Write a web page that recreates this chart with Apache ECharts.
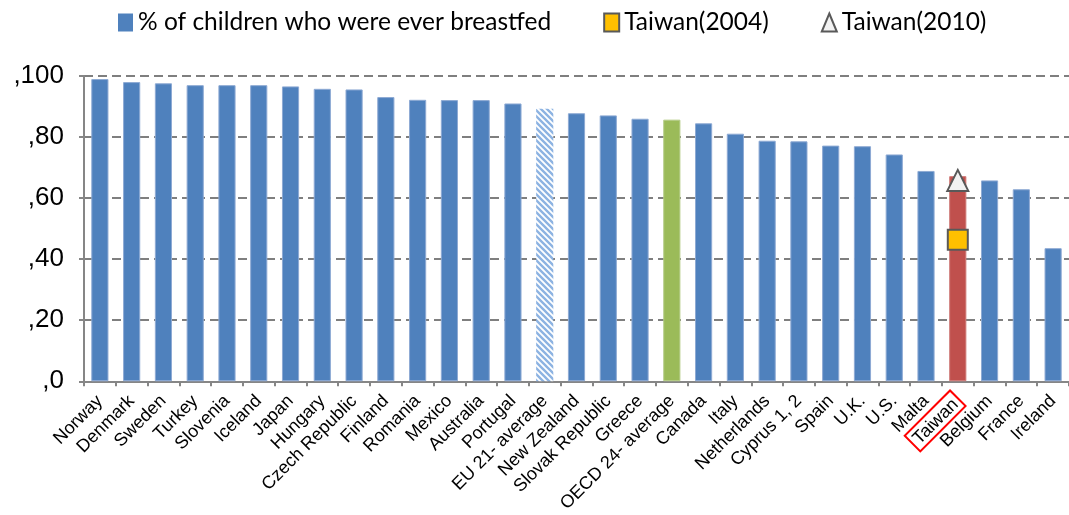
<!DOCTYPE html>
<html>
<head>
<meta charset="utf-8">
<script src="https://cdn.jsdelivr.net/npm/echarts@6/dist/echarts.min.js"></script>
<style>html,body{margin:0;padding:0;background:#fff}#c{width:1069px;height:515px}</style>
</head>
<body>
<div id="c"></div>
<script>
const categories = ["Norway","Denmark","Sweden","Turkey","Slovenia","Iceland","Japan","Hungary","Czech Republic","Finland","Romania","Mexico","Australia","Portugal","EU 21- average","New Zealand","Slovak Republic","Greece","OECD 24- average","Canada","Italy","Netherlands","Cyprus 1, 2","Spain","U.K.","U.S.","Malta","Taiwan","Belgium","France","Ireland"];
const everBreastfed = [99.0,98.0,97.6,97.0,97.0,97.0,96.6,95.8,95.6,93.1,92.2,92.1,92.1,91.0,89.3,87.8,87.1,86.0,85.7,84.5,81.1,78.8,78.6,77.2,77.0,74.3,68.9,67.2,65.8,62.9,43.6];
const taiwan2004 = 46.4;
const taiwan2010 = 65.8;
const yTicks = [0,20,40,60,80,100];

const BLUE = '#4f81bd', GREEN = '#9bbb59', RED = '#c0504d';

// hatched pattern for EU average
const pc = document.createElement('canvas');
pc.width = 6; pc.height = 6;
const g = pc.getContext('2d');
g.fillStyle = '#ffffff'; g.fillRect(0,0,6,6);
g.strokeStyle = '#8db3e2'; g.lineWidth = 2.4;
g.beginPath();
g.moveTo(-1,-1); g.lineTo(7,7);
g.moveTo(-4,2); g.lineTo(4,10);
g.moveTo(2,-4); g.lineTo(10,4);
g.stroke();

const barData = everBreastfed.map((v,i)=>{
  const c = categories[i];
  if (c === 'EU 21- average') return {value:v, itemStyle:{color:{image:pc, repeat:'repeat'}, borderWidth:0}};
  if (c === 'OECD 24- average') return {value:v, itemStyle:{color:GREEN, borderColor:'#b5cc88'}};
  if (c === 'Taiwan') return {value:v, itemStyle:{color:RED, borderColor:'#cf7a78'}};
  return v;
});
const idxTW = categories.indexOf('Taiwan');
const sq = categories.map((c,i)=> i===idxTW ? taiwan2004 : '-');
const tri = categories.map((c,i)=> i===idxTW ? taiwan2010 : '-');

const chart = echarts.init(document.getElementById('c'));
chart.setOption({
  animation:false,
  legend:{
    top:5, left:113,
    itemWidth:15, itemHeight:18, itemGap:52,
    textStyle:{fontFamily:'Lato', fontSize:24.5, color:'#000'},
    data:[
      {name:'% of children who were ever breastfed', icon:'rect', itemStyle:{borderWidth:0}},
      {name:'Taiwan(2004)', icon:'rect'},
      {name:'Taiwan(2010)', icon:'triangle'}
    ]
  },
  grid:{left:84, right:0, top:76, bottom:132, containLabel:false},
  xAxis:{
    type:'category', data:categories,
    axisLine:{lineStyle:{color:'#868686', width:2}},
    axisTick:{show:true, length:5, lineStyle:{color:'#868686', width:2}},
    axisLabel:{
      rotate:45, interval:0, margin:17,
      fontFamily:'Liberation Sans', fontSize:18, color:'#000',
      formatter:(v)=> v==='Taiwan' ? '{tw|'+v+'}' : v,
      rich:{tw:{borderColor:'#ff0000', borderWidth:2, padding:[3,4,1,4], fontFamily:'Liberation Sans', fontSize:18, color:'#000'}}
    }
  },
  yAxis:{
    type:'value', min:0, max:100, interval:20,
    axisLine:{show:true, lineStyle:{color:'#868686', width:2}},
    axisTick:{show:true, length:5, lineStyle:{color:'#868686', width:2}},
    axisLabel:{margin:20, fontFamily:'Liberation Sans', fontSize:26, color:'#000', formatter:(v)=> yTicks.includes(v) ? ','+v : ''},
    splitLine:{show:true, lineStyle:{color:'#7f7f7f', width:2, type:[9,5]}}
  },
  series:[
    {name:'% of children who were ever breastfed', type:'bar', data:barData, barWidth:'54%',
     itemStyle:{color:BLUE, borderColor:'#8eaad4', borderWidth:1}},
    {name:'Taiwan(2004)', type:'scatter', data:sq, symbol:'rect', symbolSize:20, z:5,
     itemStyle:{color:'#ffc000', borderColor:'#595959', borderWidth:2, opacity:1}},
    {name:'Taiwan(2010)', type:'scatter', data:tri, symbol:'triangle', symbolSize:[21,21], z:5,
     itemStyle:{color:'#f2f2f2', borderColor:'#595959', borderWidth:2, opacity:1}}
  ]
});
</script>
</body>
</html>
